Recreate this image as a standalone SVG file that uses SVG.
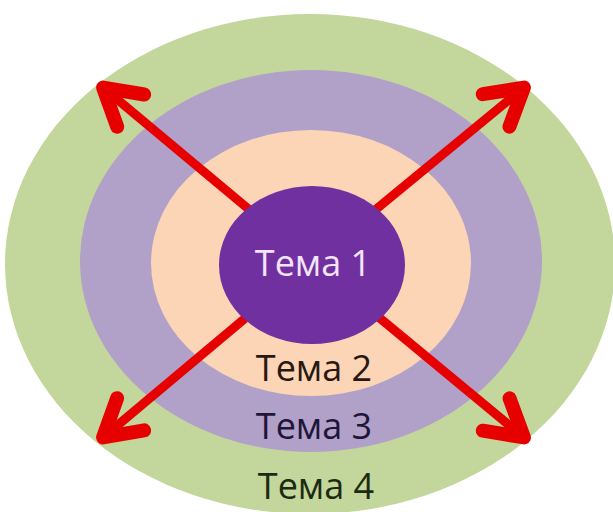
<svg xmlns="http://www.w3.org/2000/svg" width="613" height="512" viewBox="0 0 613 512">
<style>
.lbl{font-family:"Open Sans","Liberation Sans",sans-serif;font-size:36px;font-weight:500;text-anchor:middle}
.arr{stroke:#e60000;stroke-width:9;fill:none;marker-end:url(#ah)}
</style>
<defs>
<marker id="ah" markerUnits="userSpaceOnUse" viewBox="-50 -30 60 60" markerWidth="60" markerHeight="60" refX="0" refY="0" orient="auto" overflow="visible">
<path d="M-40 -21 L-4 0 L-40 21" fill="none" stroke="#e60000" stroke-width="14" stroke-linecap="round" stroke-linejoin="round"/>
</marker>
</defs>
<rect width="613" height="512" fill="#ffffff"/>
<g id="tema4">
<ellipse cx="310" cy="264" rx="305" ry="250" fill="#c3d69b"/>
<text class="lbl" x="316" y="499" fill="#1c2a12">Тема 4</text>
</g>
<g id="tema3">
<ellipse cx="311" cy="261" rx="231" ry="191" fill="#b1a1c8"/>
<text class="lbl" x="314" y="439" fill="#1e1538">Тема 3</text>
</g>
<g id="tema2">
<ellipse cx="311" cy="263" rx="160" ry="133" fill="#fbd5b5"/>
<text class="lbl" x="314" y="381" fill="#2a1810">Тема 2</text>
</g>
<g id="connectors">
<line class="arr" x1="312" y1="262" x2="100" y2="85"/>
<line class="arr" x1="312" y1="262" x2="527" y2="85"/>
<line class="arr" x1="312" y1="262" x2="100" y2="440"/>
<line class="arr" x1="312" y1="262" x2="527" y2="440"/>
</g>
<g id="tema1">
<ellipse cx="312" cy="265" rx="93" ry="79" fill="#7030a0"/>
<text class="lbl" x="313" y="276" fill="#f2e4fa" font-size="37">Тема 1</text>
</g>
</svg>
